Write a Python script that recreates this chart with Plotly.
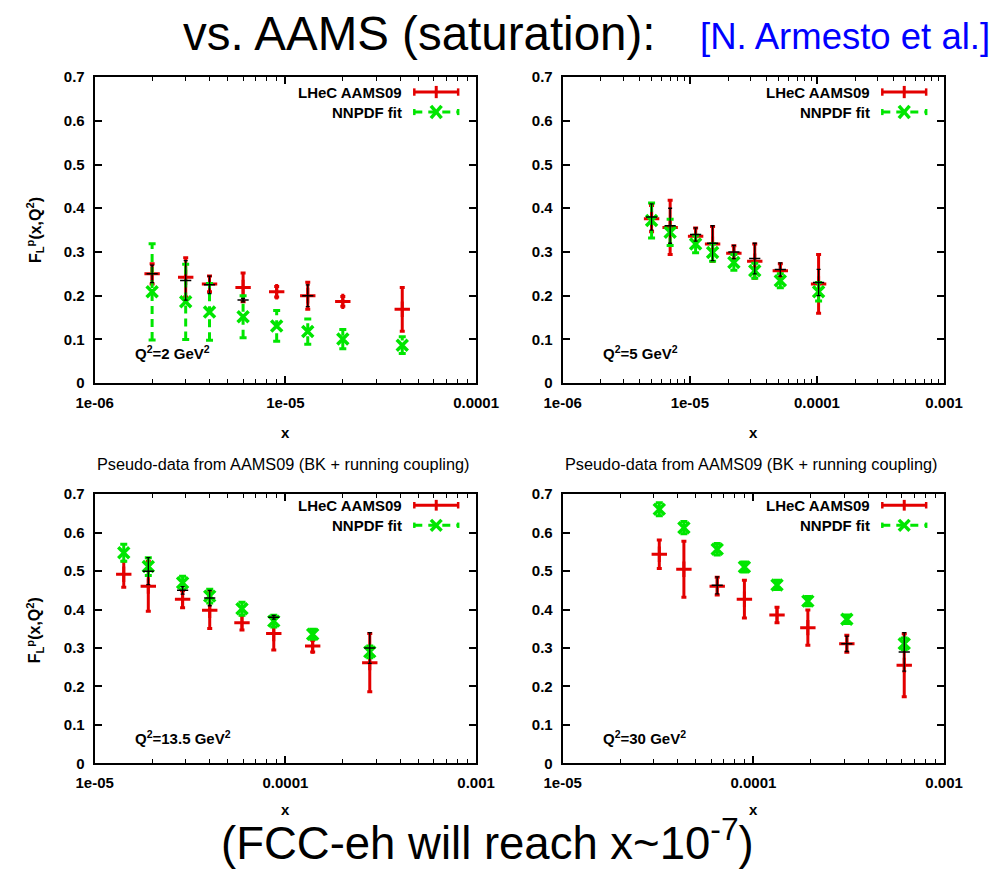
import math
import plotly.graph_objects as go

# ---------------- data ----------------
# Panel 1: Q^2 = 2 GeV^2
p1_x = [2.0e-6, 3.0e-6, 4.0e-6, 6.0e-6, 9.0e-6, 1.31e-5, 2.0e-5, 4.1e-5]
p1_red = [0.250, 0.242, 0.227, 0.219, 0.209, 0.200, 0.187, 0.169]
p1_red_err = [0.023, 0.045, 0.018, 0.033, 0.012, 0.031, 0.011, 0.050]
p1_grn = [0.209, 0.186, 0.163, 0.152, 0.131, 0.118, 0.101, 0.087]
p1_grn_err = [0.110, 0.086, 0.065, 0.048, 0.035, 0.029, 0.022, 0.019]
p1_blk = [0.250, 0.235, 0.225, 0.190, None, 0.200, None, None]
p1_blk_err = [0.020, 0.045, 0.020, 0.004, 0.0, 0.025, 0.0, 0.0]

# Panel 2: Q^2 = 5 GeV^2
p2_x = [5.0e-6, 7.0e-6, 1.11e-5, 1.51e-5, 2.22e-5, 3.24e-5, 5.15e-5, 1.03e-4]
p2_red = [0.376, 0.356, 0.336, 0.318, 0.297, 0.279, 0.257, 0.227]
p2_red_err = [0.030, 0.062, 0.019, 0.040, 0.017, 0.039, 0.016, 0.067]
p2_grn = [0.372, 0.345, 0.318, 0.299, 0.276, 0.257, 0.234, 0.209]
p2_grn_err = [0.040, 0.030, 0.020, 0.020, 0.018, 0.017, 0.016, 0.021]
p2_blk = [0.380, 0.360, 0.340, 0.320, 0.300, 0.285, 0.260, 0.230]
p2_blk_err = [0.030, 0.040, 0.015, 0.040, 0.015, 0.035, 0.015, 0.030]

# Panel 3: Q^2 = 13.5 GeV^2
p3_x = [1.42e-5, 1.91e-5, 2.89e-5, 4.01e-5, 5.92e-5, 8.69e-5, 1.39e-4, 2.77e-4]
p3_red = [0.492, 0.461, 0.427, 0.398, 0.366, 0.338, 0.305, 0.262]
p3_red_err = [0.034, 0.065, 0.022, 0.047, 0.019, 0.043, 0.015, 0.076]
p3_grn = [0.548, 0.512, 0.470, 0.435, 0.402, 0.370, 0.336, 0.290]
p3_grn_err = [0.022, 0.023, 0.017, 0.018, 0.017, 0.015, 0.013, 0.015]
p3_blk = [None, 0.500, 0.450, 0.430, None, 0.380, None, 0.300]
p3_blk_err = [0.0, 0.035, 0.010, 0.020, 0.0, 0.005, 0.0, 0.040]

# Panel 4: Q^2 = 30 GeV^2
p4_x = [3.21e-5, 4.32e-5, 6.46e-5, 8.97e-5, 1.33e-4, 1.93e-4, 3.09e-4, 6.18e-4]
p4_red = [0.544, 0.505, 0.461, 0.427, 0.386, 0.353, 0.311, 0.255]
p4_red_err = [0.037, 0.073, 0.023, 0.049, 0.020, 0.046, 0.022, 0.082]
p4_grn = [0.661, 0.613, 0.557, 0.511, 0.464, 0.422, 0.375, 0.311]
p4_grn_err = [0.017, 0.016, 0.015, 0.013, 0.012, 0.012, 0.011, 0.015]
p4_blk = [None, None, 0.463, None, None, None, 0.311, 0.290]
p4_blk_err = [0.0, 0.0, 0.022, 0.0, 0.0, 0.0, 0.020, 0.050]

q2_labels = ["Q<sup>2</sup>=2 GeV<sup>2</sup>", "Q<sup>2</sup>=5 GeV<sup>2</sup>",
             "Q<sup>2</sup>=13.5 GeV<sup>2</sup>", "Q<sup>2</sup>=30 GeV<sup>2</sup>"]
x_ranges = [(1e-6, 1e-4), (1e-6, 1e-3), (1e-5, 1e-3), (1e-5, 1e-3)]
x_tick_vals = [[1e-6, 1e-5, 1e-4], [1e-6, 1e-5, 1e-4, 1e-3], [1e-5, 1e-4, 1e-3], [1e-5, 1e-4, 1e-3]]
x_tick_text = [["1e-06", "1e-05", "0.0001"], ["1e-06", "1e-05", "0.0001", "0.001"],
               ["1e-05", "0.0001", "0.001"], ["1e-05", "0.0001", "0.001"]]
legend_names = ["LHeC AAMS09", "NNPDF fit"]
sub_title = "Pseudo-data from AAMS09 (BK + running coupling)"

RED = "#e30000"
GRN = "#00e600"
FONT = "Liberation Sans, Arial, sans-serif"

W, H = 998, 872


# map target-picture pixel positions to figure pixel positions
def sx(px):
    return (px - 25) / 0.962


def sy(py):
    return (py - 15) / 0.98


def px_paper(px):
    return sx(px) / W


def py_paper(py):
    return 1 - sy(py) / H


# panel pixel boxes in the target picture: (left, right, top, bottom)
boxes = [(93, 476, 75, 381), (563, 946, 75, 381), (93, 476, 492, 761), (563, 946, 492, 761)]

fig = go.Figure()

panels = [
    (p1_x, p1_red, p1_red_err, p1_grn, p1_grn_err, p1_blk, p1_blk_err),
    (p2_x, p2_red, p2_red_err, p2_grn, p2_grn_err, p2_blk, p2_blk_err),
    (p3_x, p3_red, p3_red_err, p3_grn, p3_grn_err, p3_blk, p3_blk_err),
    (p4_x, p4_red, p4_red_err, p4_grn, p4_grn_err, p4_blk, p4_blk_err),
]

layout_axes = {}
for i, (xs, red, rerr, grn, gerr, blk, berr) in enumerate(panels):
    n = i + 1
    xa = "x" if n == 1 else f"x{n}"
    ya = "y" if n == 1 else f"y{n}"
    fig.add_trace(go.Scatter(
        x=xs, y=red, mode="markers", xaxis=xa, yaxis=ya, showlegend=False,
        marker=dict(symbol="cross-thin-open", size=11, color=RED, line=dict(color=RED, width=3)),
        error_y=dict(type="data", array=rerr, visible=True, color=RED, thickness=3, width=2.5),
    ))
    bx, by = [], []
    for xv, yv, ev in zip(xs, grn, gerr):
        bx += [xv, xv, None]
        by += [yv - ev, yv + ev, None]
    fig.add_trace(go.Scatter(
        x=bx, y=by, mode="lines", xaxis=xa, yaxis=ya, showlegend=False,
        line=dict(color=GRN, width=3, dash="8px,5px" if n <= 2 else "solid"),
    ))
    fig.add_trace(go.Scatter(
        x=xs + xs, y=[g - e for g, e in zip(grn, gerr)] + [g + e for g, e in zip(grn, gerr)],
        mode="markers", xaxis=xa, yaxis=ya, showlegend=False,
        marker=dict(symbol="line-ew-open", size=5, color=GRN, line=dict(color=GRN, width=3)),
    ))
    fig.add_trace(go.Scatter(
        x=xs, y=grn, mode="markers", xaxis=xa, yaxis=ya, showlegend=False,
        marker=dict(symbol="x-thin-open", size=11, color=GRN, line=dict(color=GRN, width=3.5)),
    ))
    fig.add_trace(go.Scatter(
        x=xs, y=blk, mode="markers", xaxis=xa, yaxis=ya, showlegend=False,
        marker=dict(symbol="line-ew-open", size=8, color="black", line=dict(color="black", width=1.5)),
        error_y=dict(type="data", array=berr, visible=True, color="black", thickness=1.3, width=2),
    ))

    l, r, t, b = boxes[i]
    lo, hi = x_ranges[i]
    minor_vals = []
    d = math.floor(math.log10(lo))
    while 10 ** d < hi:
        for k in range(2, 10):
            minor_vals.append(k * 10 ** d)
        d += 1
    layout_axes["xaxis" if n == 1 else f"xaxis{n}"] = dict(
        type="log", range=[math.log10(lo), math.log10(hi)], domain=[px_paper(l), px_paper(r)],
        anchor=ya, showline=True, linecolor="black", linewidth=2, mirror="allticks",
        ticks="inside", ticklen=7, tickwidth=1.5, tickcolor="black",
        tickvals=x_tick_vals[i], ticktext=x_tick_text[i], showgrid=False, zeroline=False,
        tickfont=dict(family=FONT, size=15, color="black", weight="bold"),
        minor=dict(tickvals=minor_vals, ticks="inside", ticklen=4, tickcolor="black", tickwidth=1.2, showgrid=False),
        ticklabelstandoff=5,
    )
    layout_axes["yaxis" if n == 1 else f"yaxis{n}"] = dict(
        range=[0, 0.7], domain=[py_paper(b), py_paper(t)], anchor=xa,
        showline=True, linecolor="black", linewidth=2, mirror="allticks",
        ticks="inside", ticklen=7, tickwidth=1.5, tickcolor="black",
        tickvals=[0, 0.1, 0.2, 0.3, 0.4, 0.5, 0.6, 0.7],
        ticktext=["0", "0.1", "0.2", "0.3", "0.4", "0.5", "0.6", "0.7"],
        showgrid=False, zeroline=False,
        tickfont=dict(family=FONT, size=15, color="black", weight="bold"),
        ticklabelstandoff=5,
    )

fig.update_layout(**layout_axes)

annotations = []
shapes = []
for i in range(4):
    n = i + 1
    xd = "x domain" if n == 1 else f"x{n} domain"
    yd = "y domain" if n == 1 else f"y{n} domain"
    l, r, t, b = boxes[i]
    ph = b - t
    y1 = 1 - (90 - t) / ph if n <= 2 else 1 - (503 - t) / ph
    y2 = 1 - (110 - t) / ph if n <= 2 else 1 - (523 - t) / ph
    for yy, name in zip([y1, y2], legend_names):
        annotations.append(dict(xref=xd, yref=yd, x=0.81, y=yy, text=name, showarrow=False,
                                xanchor="right", yanchor="middle",
                                font=dict(family=FONT, size=15, color="black", weight="bold")))
    x0, x1, xm = 0.838, 0.953, 0.8955
    shapes.append(dict(type="line", xref=xd, yref=yd, x0=x0, x1=x1, y0=y1, y1=y1, line=dict(color=RED, width=3)))
    for xv in (x0, x1):
        shapes.append(dict(type="line", xref=xd, yref=yd, x0=xv, x1=xv, y0=y1 - 0.012, y1=y1 + 0.012,
                           line=dict(color=RED, width=2.5)))
    shapes.append(dict(type="line", xref=xd, yref=yd, x0=xm, x1=xm, y0=y1 - 0.02, y1=y1 + 0.02,
                       line=dict(color=RED, width=3)))
    shapes.append(dict(type="line", xref=xd, yref=yd, x0=x0, x1=x1, y0=y2, y1=y2,
                       line=dict(color=GRN, width=3, dash="8px,6px")))
    for xv in (x0, x1):
        shapes.append(dict(type="line", xref=xd, yref=yd, x0=xv, x1=xv, y0=y2 - 0.01, y1=y2 + 0.01,
                           line=dict(color=GRN, width=2.5)))
    dx, dy = 0.014, 0.02
    shapes.append(dict(type="line", xref=xd, yref=yd, x0=xm - dx, x1=xm + dx, y0=y2 - dy, y1=y2 + dy,
                       line=dict(color=GRN, width=3.5)))
    shapes.append(dict(type="line", xref=xd, yref=yd, x0=xm - dx, x1=xm + dx, y0=y2 + dy, y1=y2 - dy,
                       line=dict(color=GRN, width=3.5)))
    qy = (b - 350) / ph if n <= 2 else (b - 735) / ph
    annotations.append(dict(xref=xd, yref=yd, x=(131 - l) / (r - l) if n % 2 == 1 else (601 - l) / (r - l),
                            y=qy, text=q2_labels[i], showarrow=False, xanchor="left", yanchor="middle",
                            font=dict(family=FONT, size=15, color="black", weight="bold")))
    annotations.append(dict(xref="paper", yref="paper", x=px_paper((l + r) / 2),
                            y=py_paper(430 if n <= 2 else 807), text="x", showarrow=False,
                            xanchor="center", yanchor="middle",
                            font=dict(family=FONT, size=15, color="black", weight="bold")))
    if n % 2 == 1:
        annotations.append(dict(xref="paper", yref="paper", x=px_paper(33),
                                y=py_paper(228 if n == 1 else 628),
                                text="F<sub>L</sub><sup>p</sup>(x,Q<sup>2</sup>)", textangle=-90,
                                showarrow=False, xanchor="center", yanchor="middle",
                                font=dict(family=FONT, size=16, color="black", weight="bold")))
    if n >= 3:
        annotations.append(dict(xref="paper", yref="paper", x=px_paper((l + r) / 2 - 2), y=py_paper(462),
                                text=sub_title, showarrow=False, xanchor="center", yanchor="middle",
                                font=dict(family=FONT, size=16.3, color="black")))

annotations.append(dict(xref="paper", yref="paper", x=px_paper(419), y=py_paper(31),
                        text="vs. AAMS (saturation):", showarrow=False, xanchor="center", yanchor="middle",
                        font=dict(family=FONT, size=47.5, color="black")))
annotations.append(dict(xref="paper", yref="paper", x=px_paper(846), y=py_paper(34),
                        text="[N. Armesto et al.]", showarrow=False, xanchor="center", yanchor="middle",
                        font=dict(family=FONT, size=36.5, color="#0000ff")))
annotations.append(dict(xref="paper", yref="paper", x=px_paper(487), y=py_paper(838),
                        text="(FCC-eh will reach x~10<sup>-7</sup>)", showarrow=False, xanchor="center",
                        yanchor="middle",
                        font=dict(family=FONT, size=45.5, color="black")))

fig.update_layout(
    width=W, height=H, margin=dict(l=0, r=0, t=0, b=0),
    paper_bgcolor="white", plot_bgcolor="white", showlegend=False,
    annotations=annotations, shapes=shapes,
)

fig.write_html("out.html")
